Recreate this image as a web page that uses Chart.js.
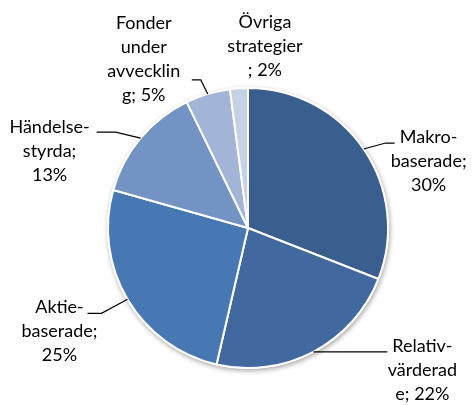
<!DOCTYPE html>
<html>
<head>
<meta charset="utf-8">
<script src="https://cdn.jsdelivr.net/npm/chart.js@4"></script>
<style>
  html, body { margin: 0; padding: 0; background: #fff; }
  #wrap { width: 473px; height: 405px; }
</style>
</head>
<body>
<div id="wrap"><canvas id="pie" width="473" height="405"></canvas></div>
<script>
// data
const categories = ['Makro-baserade', 'Relativvärderade', 'Aktie-baserade', 'Händelse-styrda', 'Fonder under avveckling', 'Övriga strategier'];
const shares = [30, 22, 25, 13, 5, 2];
// label text as wrapped in the picture
const labelLines = [
  ['Makro-', 'baserade;', '30%'],
  ['Relativ-', 'värderad', 'e; 22%'],
  ['Aktie-', 'baserade;', '25%'],
  ['Händelse-', 'styrda;', '13%'],
  ['Fonder', 'under', 'avvecklin', 'g; 5%'],
  ['Övriga', 'strategier', '; 2%']
];
const sliceColors = ['#3a5e8d', '#4169a0', '#4878b4', '#7293c4', '#a2b5d7', '#c6d1e6'];

// label layout: text centre relative to the slice's edge midpoint, and leader elbow
const labelOffsets = [
  { dx: 65, dy: 12, leader: true, elbowDx: 22, elbowDy: -6, endDx: 31 },
  { dx: 109, dy: 18, leader: true, elbowDx: 74, elbowDy: 0, endDx: 74 },
  { dx: -68, dy: 32, leader: true, elbowDx: -26, elbowDy: 14, endDx: -40 },
  { dx: -91, dy: 13, leader: true, elbowDx: -25, elbowDy: -6, endDx: -44 },
  { dx: -64, dy: -35, leader: true, elbowDx: -7, elbowDy: -14, endDx: -16 },
  { dx: 26, dy: -42, leader: false }
];

const labelPlugin = {
  id: 'pieLabels',
  beforeDatasetsDraw(chart) {
    const arc = chart.getDatasetMeta(0).data[0];
    if (!arc) return;
    const ctx = chart.ctx;
    ctx.save();
    ctx.shadowColor = 'rgba(0,0,0,0.35)';
    ctx.shadowBlur = 5;
    ctx.shadowOffsetX = 1;
    ctx.shadowOffsetY = 2;
    ctx.fillStyle = '#ffffff';
    ctx.beginPath();
    ctx.arc(arc.x, arc.y, arc.outerRadius + 1, 0, Math.PI * 2);
    ctx.fill();
    ctx.restore();
  },
  afterDatasetsDraw(chart) {
    const ctx = chart.ctx;
    const meta = chart.getDatasetMeta(0);
    ctx.save();
    ctx.font = '18px Lato, "Open Sans", sans-serif';
    ctx.fillStyle = '#000';
    ctx.textAlign = 'center';
    ctx.textBaseline = 'middle';
    ctx.strokeStyle = '#000';
    ctx.lineWidth = 1.2;
    meta.data.forEach((a, i) => {
      const mid = (a.startAngle + a.endAngle) / 2;
      const ex = a.x + Math.cos(mid) * a.outerRadius;
      const ey = a.y + Math.sin(mid) * a.outerRadius;
      const o = labelOffsets[i];
      const lines = labelLines[i];
      const lh = 24;
      const tx = ex + o.dx;
      const ty = ey + o.dy;
      if (o.leader) {
        ctx.beginPath();
        ctx.moveTo(ex, ey);
        ctx.lineTo(ex + o.elbowDx, ey + o.elbowDy);
        ctx.lineTo(ex + o.endDx, ey + o.elbowDy);
        ctx.stroke();
      }
      lines.forEach((t, k) => {
        ctx.fillText(t, tx, ty + (k - (lines.length - 1) / 2) * lh);
      });
    });
    ctx.restore();
  }
};

new Chart(document.getElementById('pie'), {
  type: 'pie',
  data: {
    labels: categories,
    datasets: [{
      data: shares,
      backgroundColor: sliceColors,
      borderColor: '#ffffff',
      borderWidth: 2,
      hoverOffset: 0
    }]
  },
  options: {
    responsive: false,
    animation: false,
    layout: { padding: { left: 107, right: 84, top: 87, bottom: 36 } },
    plugins: {
      legend: { display: false },
      tooltip: { enabled: false }
    }
  },
  plugins: [labelPlugin]
});
</script>
</body>
</html>
